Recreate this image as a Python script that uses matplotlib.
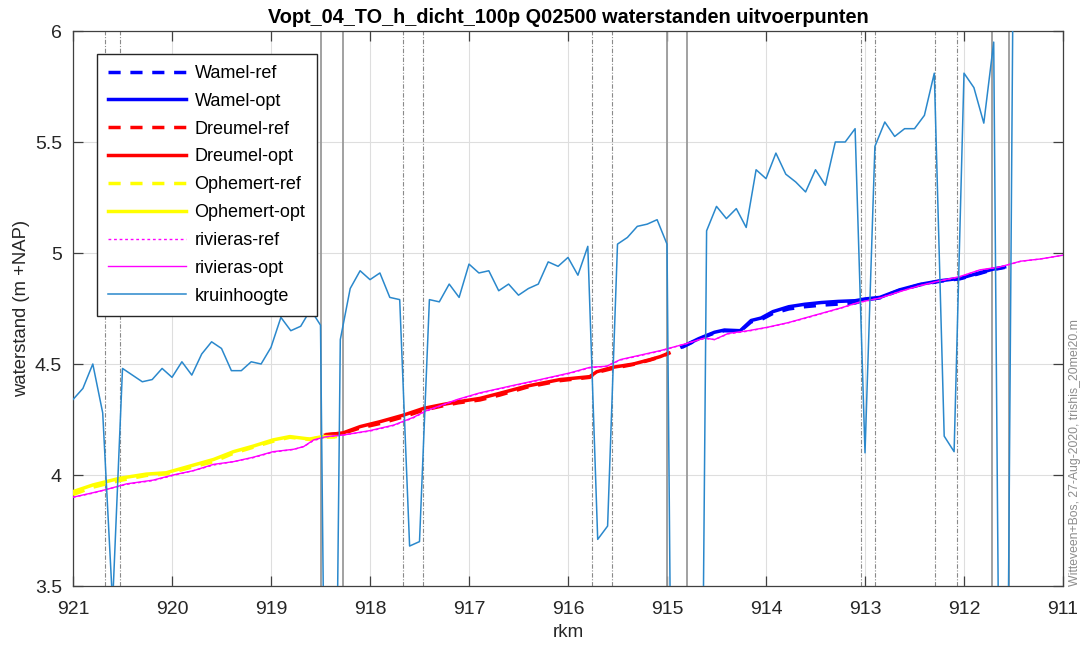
import numpy as np
import matplotlib
matplotlib.use("Agg")
import matplotlib.pyplot as plt
from matplotlib.ticker import FuncFormatter

plt.rcParams['font.family'] = ['Liberation Sans', 'DejaVu Sans']

# kruinhoogte, every 100 m from rkm 921.0 downwards
kruin_z = [4.34, 4.39, 4.50, 4.28, 3.42, 4.48, 4.45, 4.42, 4.43, 4.48,
           4.44, 4.51, 4.45, 4.545, 4.60, 4.57, 4.47, 4.47, 4.51, 4.50,
           4.575, 4.71, 4.65, 4.67, 4.745, 4.675, 0.4, 4.61, 4.84, 4.92,
           4.88, 4.91, 4.80, 4.79, 3.68, 3.70, 4.79, 4.78, 4.86, 4.80,
           4.95, 4.91, 4.92, 4.83, 4.86, 4.81, 4.84, 4.86, 4.96, 4.94,
           4.98, 4.90, 5.03, 3.71, 3.77, 5.04, 5.07, 5.12, 5.13, 5.15,
           5.04, 0.0, 0.0, 0.0, 5.10, 5.21, 5.155, 5.20, 5.115, 5.375,
           5.335, 5.45, 5.355, 5.32, 5.275, 5.375, 5.305, 5.50, 5.50, 5.56,
           4.10, 5.48, 5.59, 5.525, 5.56, 5.56, 5.62, 5.81, 4.175, 4.105,
           5.81, 5.745, 5.585, 5.95, 0.5, 6.5]
kruin_km = np.round(921.0 - 0.1 * np.arange(len(kruin_z)), 1)

# rivieras
riv_km = [921.0, 920.8, 920.66, 920.46, 920.19, 919.99, 919.78, 919.58, 919.38, 919.18,
          918.98, 918.77, 918.67, 918.57, 918.44, 918.27, 918.0, 917.76, 917.56, 917.43,
          917.12, 916.89, 916.59, 916.28, 915.98, 915.78, 915.61, 915.47, 915.27, 915.07,
          914.82, 914.62, 914.52, 914.38, 914.18, 913.98, 913.77, 913.57, 913.24, 913.07,
          912.85, 912.65, 912.44, 912.24, 912.04, 911.84, 911.64, 911.43, 911.23, 911.0]
riv_opt = [3.90, 3.92, 3.935, 3.96, 3.977, 4.00, 4.02, 4.048, 4.06, 4.08,
           4.105, 4.116, 4.128, 4.158, 4.173, 4.18, 4.20, 4.225, 4.26, 4.29,
           4.34, 4.37, 4.40, 4.43, 4.46, 4.485, 4.49, 4.52, 4.54, 4.56,
           4.59, 4.617, 4.61, 4.638, 4.65, 4.666, 4.687, 4.712, 4.753, 4.777,
           4.797, 4.826, 4.854, 4.875, 4.894, 4.924, 4.937, 4.963, 4.973, 4.99]
riv_ref = [3.90, 3.918, 3.935, 3.958, 3.975, 3.998, 4.02, 4.045, 4.06, 4.078,
           4.103, 4.115, 4.128, 4.155, 4.172, 4.18, 4.198, 4.223, 4.258, 4.288,
           4.338, 4.368, 4.398, 4.428, 4.458, 4.483, 4.49, 4.518, 4.538, 4.558,
           4.59, 4.615, 4.61, 4.636, 4.648, 4.665, 4.686, 4.71, 4.752, 4.776,
           4.797, 4.826, 4.853, 4.874, 4.893, 4.923, 4.936, 4.962, 4.973, 4.99]

# Ophemert
oph_km = [921.0, 920.8, 920.53, 920.26, 920.06, 919.78, 919.58, 919.38, 919.18, 918.98,
          918.81, 918.61, 918.48, 918.35]
oph_opt = [3.925, 3.955, 3.985, 4.004, 4.01, 4.045, 4.07, 4.105, 4.13, 4.158,
           4.173, 4.162, 4.173, 4.173]
oph_ref = [3.912, 3.945, 3.975, 3.998, 4.005, 4.038, 4.06, 4.098, 4.125, 4.152,
           4.17, 4.16, 4.17, 4.172]

# Dreumel
dre_km = [918.45, 918.27, 918.1, 917.9, 917.66, 917.46, 917.26, 917.11, 916.89, 916.69,
          916.42, 916.08, 915.78, 915.71, 915.55, 915.34, 915.17, 915.07, 914.98]
dre_opt = [4.18, 4.19, 4.218, 4.24, 4.27, 4.30, 4.318, 4.33, 4.345, 4.368,
           4.40, 4.43, 4.443, 4.465, 4.485, 4.50, 4.52, 4.533, 4.549]
dre_ref = [4.182, 4.188, 4.212, 4.232, 4.262, 4.292, 4.312, 4.325, 4.338, 4.36,
           4.395, 4.425, 4.44, 4.462, 4.48, 4.498, 4.518, 4.532, 4.548]

# Wamel
wam_km = [914.85, 914.68, 914.52, 914.42, 914.26, 914.15, 914.05, 913.93, 913.77, 913.61,
          913.44, 913.27, 913.1, 913.0, 912.85, 912.65, 912.44, 912.24, 912.04, 911.84,
          911.71, 911.59]
wam_opt = [4.577, 4.614, 4.643, 4.653, 4.65, 4.696, 4.707, 4.736, 4.758, 4.769,
           4.777, 4.782, 4.785, 4.793, 4.80, 4.834, 4.859, 4.875, 4.886, 4.911,
           4.927, 4.937]
wam_ref = [4.575, 4.612, 4.64, 4.65, 4.648, 4.69, 4.70, 4.728, 4.748, 4.758,
           4.765, 4.77, 4.775, 4.788, 4.798, 4.832, 4.857, 4.873, 4.884, 4.908,
           4.925, 4.935]

# uitvoerpunten / kunstwerken
dashdot_km = [920.68, 920.53, 917.67, 917.46, 915.76, 915.56, 913.04, 912.90, 912.29, 912.07]
solid_km = [918.49, 918.27, 915.0, 914.80, 911.72, 911.55]

title = "Vopt_04_TO_h_dicht_100p Q02500 waterstanden uitvoerpunten"
stamp = "Witteveen+Bos, 27-Aug-2020, trishis_20mei20.m"

fig = plt.figure(figsize=(10.83, 6.48), dpi=100)
ax = fig.add_axes([73/1083, 1-586/648, 990/1083, 555/648])

for k in dashdot_km:
    ax.axvline(k, color='#8a8a8a', lw=0.8, ls=(0, (4, 1.5, 1, 1.5)), zorder=1)
for k in solid_km:
    ax.axvline(k, color='#9a9a9a', lw=1.3, zorder=1)

dash = (0, (3.5, 2.8))
ax.plot(wam_km, wam_ref, color='#0000ff', lw=2.5, ls=dash, label='Wamel-ref', zorder=3)
ax.plot(wam_km, wam_opt, color='#0000ff', lw=2.5, label='Wamel-opt', zorder=3)
ax.plot(dre_km, dre_ref, color='#ff0000', lw=2.5, ls=dash, label='Dreumel-ref', zorder=3)
ax.plot(dre_km, dre_opt, color='#ff0000', lw=2.5, label='Dreumel-opt', zorder=3)
ax.plot(oph_km, oph_ref, color='#ffff00', lw=2.5, ls=dash, label='Ophemert-ref', zorder=3)
ax.plot(oph_km, oph_opt, color='#ffff00', lw=2.5, label='Ophemert-opt', zorder=3)
ax.plot(riv_km, riv_ref, color='#ff00ff', lw=1.0, ls=(0, (2, 2)), label='rivieras-ref', zorder=4)
ax.plot(riv_km, riv_opt, color='#ff00ff', lw=1.0, label='rivieras-opt', zorder=4)
ax.plot(kruin_km, kruin_z, color='#2a88cc', lw=1.1, label='kruinhoogte', zorder=5)

ax.set_xlim(921, 911)
ax.set_ylim(3.5, 6)
ax.set_xticks(np.arange(911, 922))
ax.set_yticks([3.5, 4, 4.5, 5, 5.5, 6])
ax.yaxis.set_major_formatter(FuncFormatter(lambda v, p: f"{v:g}"))
ax.grid(True, color='#dedede', lw=0.8, zorder=0)
ax.set_axisbelow(True)
ax.tick_params(direction='in', length=7, width=0.9, colors='#404040', labelcolor='#262626',
               labelsize=14, top=True, right=True)
ax.tick_params(axis='x', pad=11)
ax.tick_params(axis='y', pad=8)
for s in ax.spines.values():
    s.set_color('#404040')
    s.set_linewidth(0.9)

ax.set_xlabel('rkm', fontsize=13.5, color='#262626', labelpad=4)
ax.set_ylabel('waterstand (m +NAP)', fontsize=13.3, color='#262626', labelpad=3)
ax.set_title(title, fontsize=14.3, fontweight='bold', color='#000000', pad=6)

leg = ax.legend(loc='upper left', bbox_to_anchor=(0.024, 0.959), borderaxespad=0,
                fontsize=13, handlelength=4.3, handletextpad=0.5, labelspacing=0.6,
                fancybox=False, framealpha=1, edgecolor='#262626', borderpad=0.62)
leg.get_frame().set_linewidth(1.0)

fig.text(1075/1083, 1-586/648, stamp, rotation=90, ha='center', va='bottom',
         fontsize=8.8, color='#8c8c8c')

fig.savefig('out.png', dpi=100)
